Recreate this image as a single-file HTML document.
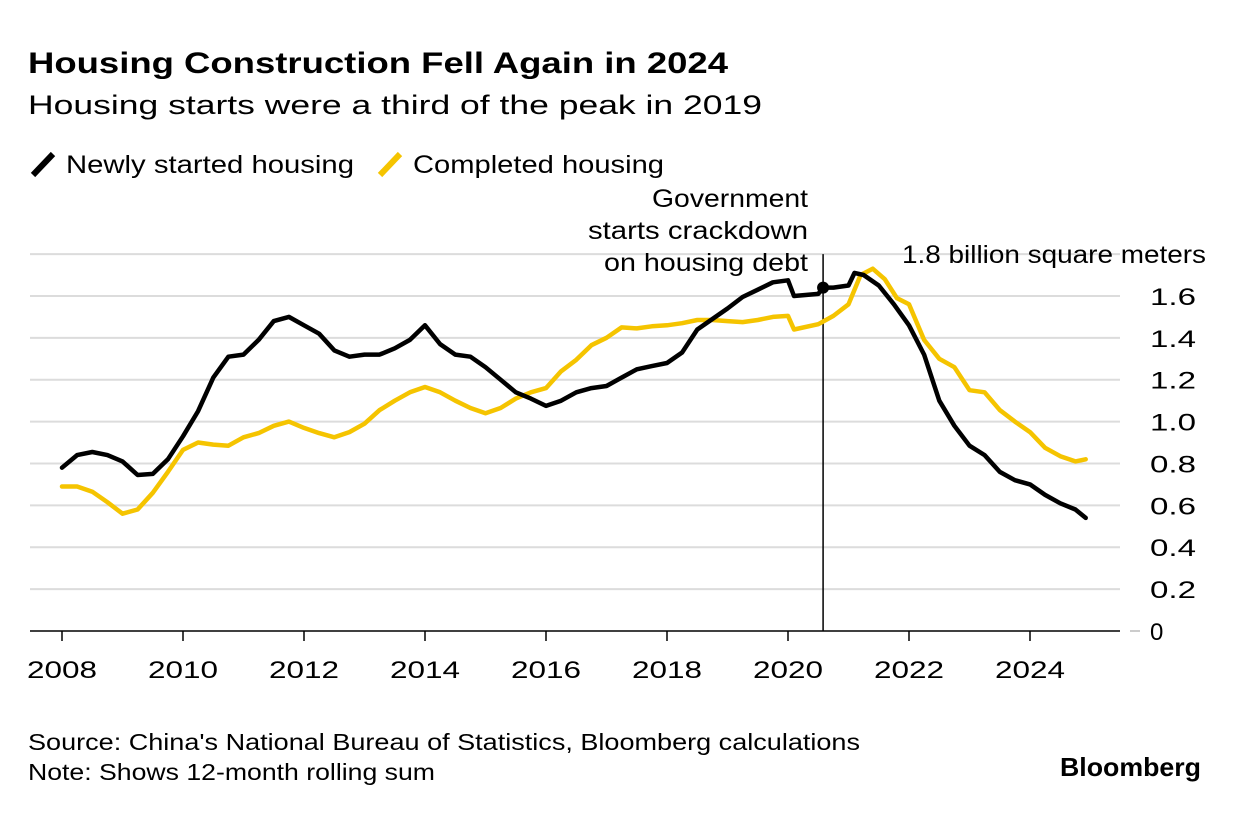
<!DOCTYPE html>
<html><head><meta charset="utf-8">
<style>
body{margin:0;background:#fff;width:1240px;height:826px;overflow:hidden;font-family:"Liberation Sans",sans-serif;}
svg text{font-family:"Liberation Sans",sans-serif;}
</style></head>
<body>
<svg id="c" width="1240" height="826">
<text x="28" y="73" font-size="30" font-weight="bold" fill="#000" textLength="700" lengthAdjust="spacingAndGlyphs">Housing Construction Fell Again in 2024</text>
<text x="28" y="114" font-size="27" fill="#000" textLength="734" lengthAdjust="spacingAndGlyphs">Housing starts were a third of the peak in 2019</text>
<g>
<line x1="33" y1="175" x2="53" y2="154" stroke="#000" stroke-width="6"/>
<text x="66" y="173" font-size="25" textLength="288" lengthAdjust="spacingAndGlyphs">Newly started housing</text>
<line x1="380" y1="175" x2="400" y2="154" stroke="#f5c400" stroke-width="6"/>
<text x="413" y="173" font-size="25" textLength="251" lengthAdjust="spacingAndGlyphs">Completed housing</text>
</g>
<g id="grid"></g>
<g id="plot"></g>
<g font-size="25">
<text x="652" y="207" textLength="156" lengthAdjust="spacingAndGlyphs">Government</text>
<text x="588" y="239" textLength="220" lengthAdjust="spacingAndGlyphs">starts crackdown</text>
<text x="604" y="271" textLength="204" lengthAdjust="spacingAndGlyphs">on housing debt</text>
</g>
<text x="902" y="263" font-size="25" textLength="304" lengthAdjust="spacingAndGlyphs">1.8 billion square meters</text>
<text x="28" y="750" font-size="23" textLength="832" lengthAdjust="spacingAndGlyphs">Source: China's National Bureau of Statistics, Bloomberg calculations</text>
<text x="28" y="780" font-size="23" textLength="407" lengthAdjust="spacingAndGlyphs">Note: Shows 12-month rolling sum</text>
<text x="1060" y="776" font-size="26" font-weight="bold" textLength="141" lengthAdjust="spacingAndGlyphs">Bloomberg</text>
</svg>
<script>
const yTicks=[0,0.2,0.4,0.6,0.8,1.0,1.2,1.4,1.6];
const yTickLabels=["0","0.2","0.4","0.6","0.8","1.0","1.2","1.4","1.6"];
const xTicks=[2008,2010,2012,2014,2016,2018,2020,2022,2024];
const newX=[2008,2008.25,2008.5,2008.75,2009,2009.25,2009.5,2009.75,2010,2010.25,2010.5,2010.75,2011,2011.25,2011.5,2011.75,2012,2012.25,2012.5,2012.75,2013,2013.25,2013.5,2013.75,2014,2014.25,2014.5,2014.75,2015,2015.25,2015.5,2015.75,2016,2016.25,2016.5,2016.75,2017,2017.25,2017.5,2017.75,2018,2018.25,2018.5,2018.75,2019,2019.25,2019.5,2019.75,2020,2020.1,2020.5,2020.58,2020.75,2021,2021.1,2021.25,2021.5,2021.75,2022,2022.25,2022.5,2022.75,2023,2023.25,2023.5,2023.75,2024,2024.25,2024.5,2024.75,2024.92];
const newVals=[0.78,0.84,0.855,0.84,0.81,0.745,0.75,0.82,0.93,1.05,1.21,1.31,1.32,1.39,1.48,1.5,1.46,1.42,1.34,1.31,1.32,1.32,1.35,1.39,1.46,1.37,1.32,1.31,1.26,1.2,1.14,1.11,1.075,1.1,1.14,1.16,1.17,1.21,1.25,1.265,1.28,1.33,1.44,1.49,1.54,1.595,1.63,1.665,1.675,1.6,1.61,1.64,1.64,1.65,1.71,1.7,1.65,1.56,1.46,1.32,1.1,0.98,0.885,0.84,0.76,0.72,0.7,0.65,0.61,0.58,0.54];
const compX=[2008,2008.25,2008.5,2008.75,2009,2009.25,2009.5,2009.75,2010,2010.25,2010.5,2010.75,2011,2011.25,2011.5,2011.75,2012,2012.25,2012.5,2012.75,2013,2013.25,2013.5,2013.75,2014,2014.25,2014.5,2014.75,2015,2015.25,2015.5,2015.75,2016,2016.25,2016.5,2016.75,2017,2017.25,2017.5,2017.75,2018,2018.25,2018.5,2018.75,2019,2019.25,2019.5,2019.75,2020,2020.1,2020.5,2020.75,2021,2021.2,2021.4,2021.6,2021.8,2022,2022.25,2022.5,2022.75,2023,2023.25,2023.5,2023.75,2024,2024.25,2024.5,2024.75,2024.92];
const compVals=[0.69,0.69,0.665,0.615,0.56,0.58,0.66,0.76,0.865,0.9,0.89,0.885,0.925,0.945,0.98,1.0,0.97,0.945,0.925,0.95,0.99,1.055,1.1,1.14,1.165,1.14,1.1,1.065,1.04,1.065,1.11,1.14,1.16,1.24,1.295,1.365,1.4,1.45,1.445,1.455,1.46,1.47,1.485,1.485,1.48,1.475,1.485,1.5,1.505,1.44,1.465,1.505,1.56,1.7,1.73,1.68,1.59,1.56,1.39,1.3,1.26,1.15,1.14,1.055,1.0,0.95,0.875,0.835,0.81,0.82];
const eventX=2020.58, eventVal=1.64;
const NS="http://www.w3.org/2000/svg";
const xs=v=>62+(v-2008)*60.5;
const ys=v=>631-v*209.4;
const grid=document.getElementById('grid'), plot=document.getElementById('plot');
function mk(tag,attrs,parent){const e=document.createElementNS(NS,tag);for(const k in attrs)e.setAttribute(k,attrs[k]);parent.appendChild(e);return e;}
yTicks.forEach((t,i)=>{
  if(t>0){const l=mk('line',{x1:30,x2:1120,y1:ys(t),y2:ys(t),stroke:'#dcdcdc','stroke-width':2},grid);
  
  }
  const tx=mk('text',{x:1150,y:ys(t)+9,'font-size':24},grid);tx.textContent=yTickLabels[i];
  if(yTickLabels[i].length>1){tx.setAttribute('textLength',46);tx.setAttribute('lengthAdjust','spacingAndGlyphs');}
  
  
});
mk('line',{x1:1130,x2:1140,y1:631,y2:631,stroke:'#ccc','stroke-width':2},grid);
mk('line',{x1:30,x2:1120,y1:ys(1.8),y2:ys(1.8),stroke:'#dcdcdc','stroke-width':2},grid);
const base=mk('line',{x1:30,x2:1120,y1:631,y2:631,stroke:'#000','stroke-width':1.5},grid);


xTicks.forEach(t=>{
  mk('line',{x1:xs(t),x2:xs(t),y1:631,y2:641,stroke:'#000','stroke-width':1.5},grid);
  const tx=mk('text',{x:xs(t)-35,y:678,'font-size':24,textLength:70,lengthAdjust:'spacingAndGlyphs'},grid);tx.textContent=t;
  
  
});
const vl=mk('line',{x1:xs(eventX),x2:xs(eventX),y1:ys(1.8),y2:631,stroke:'#000','stroke-width':1.5},plot);


function line(xa,va,color,name){
  const d=xa.map((x,i)=>(i?'L':'M')+xs(x).toFixed(1)+','+ys(va[i]).toFixed(1)).join('');
  const p=mk('path',{d:d,fill:'none',stroke:color,'stroke-width':4.5,'stroke-linejoin':'round','stroke-linecap':'round'},plot);
  
  
}
line(compX,compVals,'#f5c400','series-completed-housing');
line(newX,newVals,'#000','series-newly-started-housing');
const dot=mk('circle',{cx:xs(eventX),cy:ys(eventVal),r:6,fill:'#000'},plot);


</script>
</body></html>
